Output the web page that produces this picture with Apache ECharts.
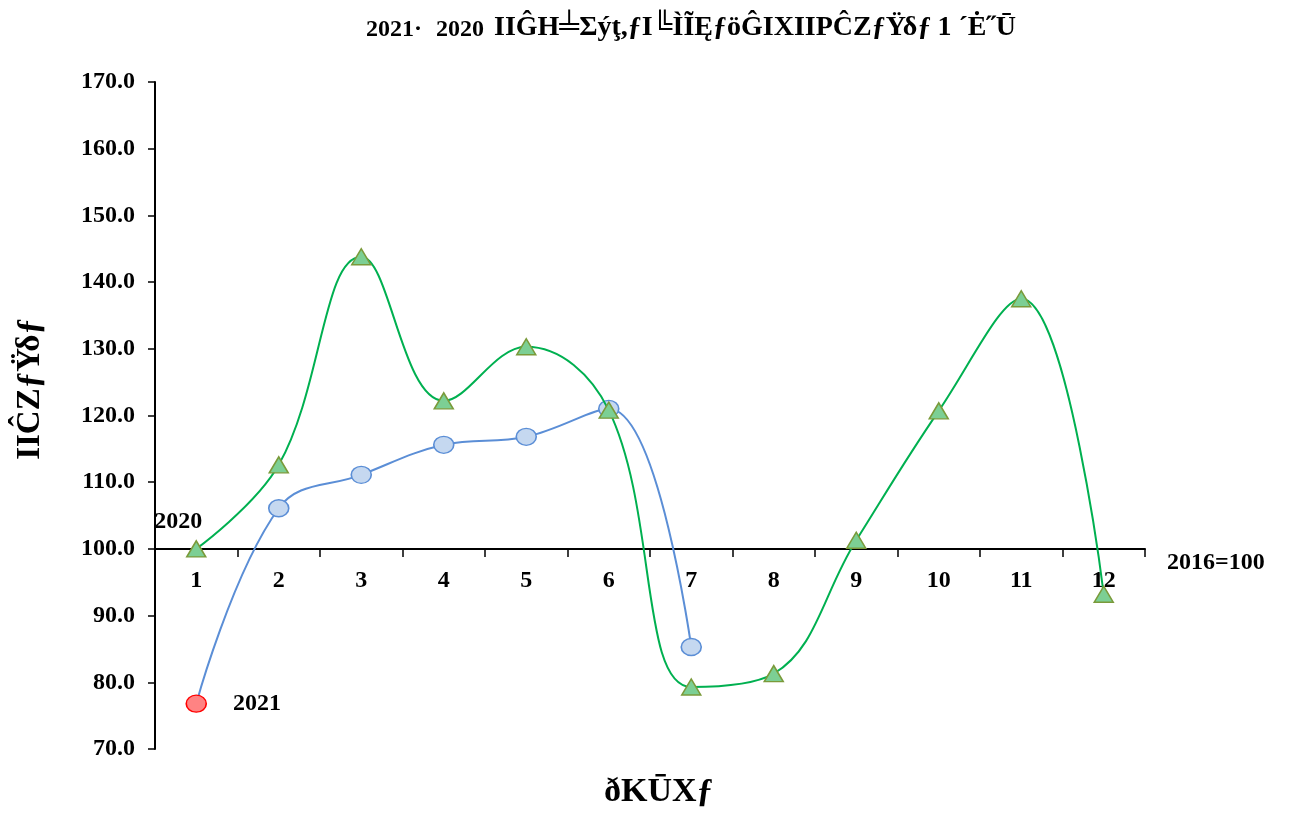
<!DOCTYPE html>
<html>
<head>
<meta charset="utf-8">
<script src="https://cdn.jsdelivr.net/npm/echarts@6/dist/echarts.min.js"></script>
<style>
html,body{margin:0;padding:0;background:#fff;}
#c{width:1292px;height:814px;}
</style>
</head>
<body>
<div id="c"></div>
<script>
var months = ['1','2','3','4','5','6','7','8','9','10','11','12'];
var values2020 = [100.0, 112.6, 143.8, 122.2, 130.3, 120.8, 79.3, 81.3, 101.3, 120.7, 137.5, 93.2];
var values2021 = [76.8, 106.1, 111.1, 115.6, 116.8, 121.0, 85.3];
var yTicks = {min: 70, max: 170, interval: 10, base: 100};
var titleYear1 = '2021\u00b7';
var titleYear2 = '2020';
var titleText = '\u0399\u0399\u011c\u0397\u2567\u03a3\u00fd\u0163,\u0192\u0399\u255a\u00cc\u0128\u0118\u0192\u00f6\u011c\u0399\u03a7\u0399\u0399\u0420\u0108\u0396\u0192\u03ab\u03b4\u0192';
var titleTail = '1 \u00b4\u0116\u02dd\u016a';
var yName = '\u0399\u0399\u0108\u0396\u0192\u03ab\u03b4\u0192';
var xName = '\u00f0\u039a\u016a\u03a7\u0192';
var baseLabel = '2016=100';
var label2020 = '2020';
var label2021 = '2021';

var FONT = '"Liberation Serif", "Times New Roman", serif';
var gridTop = 82, gridBottom = 65;
var gridH = 814 - gridTop - gridBottom;
var axisOffset = -gridH * (yTicks.base - yTicks.min) / (yTicks.max - yTicks.min);

var d2021 = values2021.map(function (v, i) {
  if (i === 0) {
    return {
      value: v,
      itemStyle: {color: '#ff8383', borderColor: '#ff0000'},
      label: {show: true, position: 'right', distance: 26, formatter: label2021,
        fontFamily: FONT, fontWeight: 'bold', fontSize: 24, color: '#000'}
    };
  }
  return v;
});
var d2020 = values2020.map(function (v, i) {
  if (i === 0) {
    return {
      value: v,
      label: {show: true, position: 'top', distance: 6, offset: [-18, 0], formatter: label2020,
        fontFamily: FONT, fontWeight: 'bold', fontSize: 24, color: '#000'}
    };
  }
  return v;
});

var chart = echarts.init(document.getElementById('c'));
chart.setOption({
  backgroundColor: '#fff',
  animation: false,
  title: {
    text: '{a|' + titleYear1 + '}{a2|' + titleYear2 + '}{b|' + titleText + '}{c|' + titleTail + '}',
    left: 361, top: 9,
    textStyle: {
      rich: {
        a: {fontFamily: FONT, fontWeight: 'bold', fontSize: 24, color: '#000', verticalAlign: 'bottom'},
        a2: {fontFamily: FONT, fontWeight: 'bold', fontSize: 24, color: '#000', verticalAlign: 'bottom', padding: [0, 0, 0, 14]},
        b: {fontFamily: FONT, fontWeight: 'bold', fontSize: 28, color: '#000', verticalAlign: 'bottom', padding: [0, 0, 0, 10]},
        c: {fontFamily: FONT, fontWeight: 'bold', fontSize: 28, color: '#000', verticalAlign: 'bottom', padding: [0, 0, 0, 6]}
      }
    }
  },
  grid: {left: 155, right: 147, top: gridTop, bottom: gridBottom},
  xAxis: {
    type: 'category',
    data: months,
    boundaryGap: true,
    position: 'bottom',
    offset: axisOffset,
    axisLine: {show: true, lineStyle: {color: '#000', width: 2}},
    axisTick: {show: true, length: 8, lineStyle: {color: '#000', width: 1.5}},
    axisLabel: {margin: 20, fontFamily: FONT, fontWeight: 'bold', fontSize: 24, color: '#000'},
    name: baseLabel,
    nameLocation: 'end',
    nameGap: 22,
    nameTextStyle: {fontFamily: FONT, fontWeight: 'bold', fontSize: 24, color: '#000',
      align: 'left', verticalAlign: 'top', padding: [2, 0, 0, 0]}
  },
  yAxis: {
    type: 'value',
    min: yTicks.min, max: yTicks.max, interval: yTicks.interval,
    axisLine: {show: true, lineStyle: {color: '#000', width: 2}},
    axisTick: {show: true, length: 7, lineStyle: {color: '#000', width: 1.5}},
    splitLine: {show: false},
    axisLabel: {margin: 20, fontFamily: FONT, fontWeight: 'bold', fontSize: 24, color: '#000',
      formatter: function (v) { return v.toFixed(1); }}
  },
  graphic: [
    {type: 'text', left: 14, top: 318, rotation: Math.PI / 2,
      style: {text: yName, font: 'bold 33px ' + FONT, fill: '#000'}},
    {type: 'text', left: 604, top: 775,
      style: {text: xName, font: 'bold 34px ' + FONT, fill: '#000'}}
  ],
  series: [
    {
      name: '2021',
      type: 'line',
      data: d2021,
      smooth: 0.4,
      symbol: 'circle',
      symbolSize: [20, 17],
      lineStyle: {color: '#5b8ed6', width: 2},
      itemStyle: {color: '#c5d8f0', borderColor: '#5b8ed6', borderWidth: 1.5},
      z: 2
    },
    {
      name: '2020',
      type: 'line',
      data: d2020,
      smooth: 0.4,
      symbol: 'triangle',
      symbolSize: [19, 16],
      lineStyle: {color: '#00b050', width: 2},
      itemStyle: {color: '#7ccf94', borderColor: '#7a9a3a', borderWidth: 1.5},
      z: 3
    }
  ]
});
</script>
</body>
</html>
